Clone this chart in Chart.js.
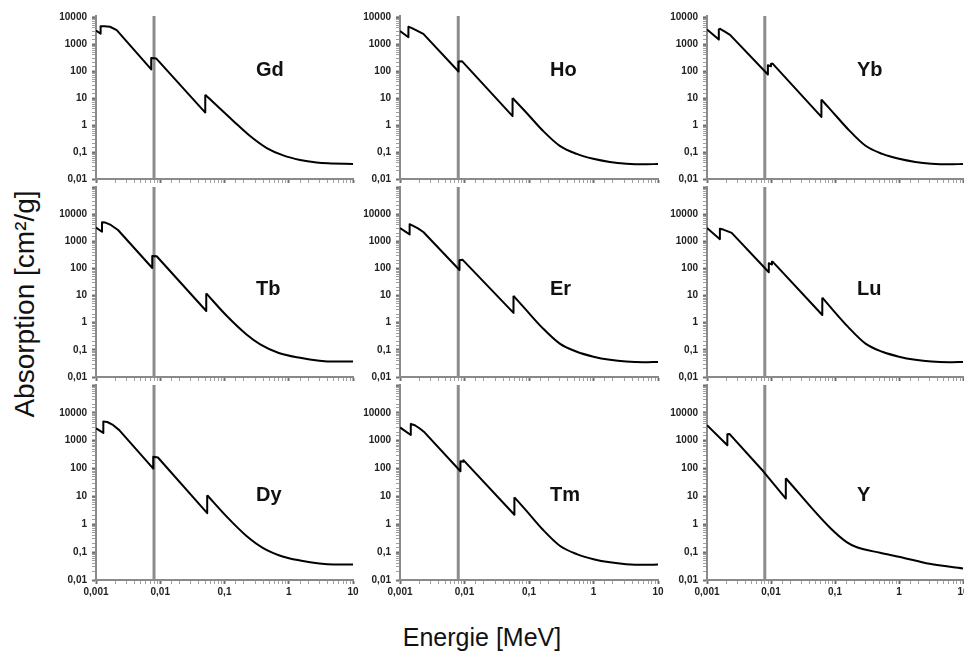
<!DOCTYPE html>
<html>
<head>
<meta charset="utf-8">
<script src="https://cdn.jsdelivr.net/npm/chart.js@4.4.1/dist/chart.umd.min.js"></script>
<style>
html,body{margin:0;padding:0;background:#fff;}
body{width:964px;height:662px;overflow:hidden;position:relative;font-family:"Liberation Sans",Arial,sans-serif;}
.panel{position:absolute;}
.panel canvas{display:block;}
.elem{position:absolute;font-weight:bold;font-size:20px;line-height:20px;color:#111;transform:translateY(-50%);white-space:nowrap;}
#ytitle{position:absolute;left:25px;top:304px;transform:translate(-50%,-50%) rotate(-90deg);font-size:28px;line-height:28px;white-space:nowrap;color:#111;}
#xtitle{position:absolute;left:482px;top:637px;transform:translate(-50%,-50%);font-size:25px;line-height:25px;white-space:nowrap;color:#111;}
</style>
</head>
<body>
<div id="ytitle">Absorption [cm²/g]</div>
<div id="xtitle">Energie [MeV]</div>
<script>
// ---------- data (energy in MeV, mass absorption in cm²/g) ----------
const gdEnergy = [0.001, 0.00118, 0.00118, 0.00135, 0.00165, 0.0021, 0.00724, 0.00724, 0.0087, 0.0502, 0.0502, 0.137, 0.25, 0.455, 0.82, 1.5, 2.7, 4.1, 10];
const gdMu     = [3200, 2450, 4600, 4600, 4400, 3300, 115, 305, 290, 2.9, 13.2, 1.42, 0.39, 0.14, 0.075, 0.051, 0.041, 0.038, 0.036];

const hoEnergy = [0.001, 0.00135, 0.00135, 0.0015, 0.0018, 0.0023, 0.00807, 0.00807, 0.0092, 0.0556, 0.0556, 0.092, 0.166, 0.30, 0.55, 0.99, 1.79, 3.25, 5.9, 10];
const hoMu     = [3060, 1800, 4400, 4000, 3200, 2400, 96, 225, 230, 2.15, 10, 2.8, 0.6, 0.17, 0.085, 0.056, 0.043, 0.037, 0.035, 0.036];

const ybEnergy = [0.001, 0.00153, 0.00153, 0.0016, 0.0019, 0.00229, 0.00894, 0.00894, 0.00998, 0.00998, 0.0106, 0.0613, 0.0613, 0.0836, 0.16, 0.30, 0.55, 1.0, 1.8, 3.2, 6, 10];
const ybMu     = [3480, 1470, 3500, 3700, 2900, 2200, 75, 165, 150, 185, 190, 2.0, 8.8, 3.9, 0.7, 0.17, 0.085, 0.056, 0.043, 0.037, 0.035, 0.036];

const tbEnergy = [0.001, 0.00124, 0.00124, 0.0014, 0.0017, 0.0022, 0.00751, 0.00751, 0.0088, 0.052, 0.052, 0.108, 0.22, 0.36, 0.7, 1.5, 3, 5, 10];
const tbMu     = [3200, 2250, 5000, 4900, 4000, 2600, 104, 285, 280, 2.7, 12, 1.8, 0.37, 0.16, 0.077, 0.051, 0.04, 0.037, 0.037];

const erEnergy = [0.001, 0.00141, 0.00141, 0.0016, 0.0019, 0.0023, 0.00836, 0.00836, 0.0093, 0.0575, 0.0575, 0.0866, 0.16, 0.30, 0.55, 1.0, 1.8, 3.2, 6, 10];
const erMu     = [3080, 1790, 4260, 3700, 3000, 2200, 88, 200, 210, 2.3, 9.8, 3.3, 0.66, 0.17, 0.085, 0.056, 0.043, 0.037, 0.035, 0.036];

const luEnergy = [0.001, 0.00159, 0.00159, 0.0018, 0.00243, 0.00924, 0.00924, 0.01035, 0.01035, 0.0106, 0.0633, 0.0633, 0.0836, 0.16, 0.30, 0.55, 1.0, 1.8, 3.2, 6, 10];
const luMu     = [3080, 1200, 2900, 2700, 2040, 72, 156, 140, 176, 178, 1.93, 8.4, 3.9, 0.7, 0.17, 0.085, 0.056, 0.043, 0.037, 0.035, 0.036];

const dyEnergy = [0.001, 0.0013, 0.0013, 0.0015, 0.0018, 0.0023, 0.00779, 0.00779, 0.0092, 0.0538, 0.0538, 0.11, 0.22, 0.4, 0.8, 1.5, 3, 5, 10];
const dyMu     = [2800, 1900, 4900, 4700, 3800, 2400, 100, 265, 250, 2.5, 11, 1.8, 0.38, 0.14, 0.07, 0.05, 0.039, 0.036, 0.036];

const tmEnergy = [0.001, 0.00147, 0.00147, 0.0017, 0.002, 0.0024, 0.00865, 0.00865, 0.00962, 0.00962, 0.0594, 0.0594, 0.09, 0.16, 0.30, 0.55, 1.0, 1.8, 3.2, 6, 10];
const tmMu     = [3000, 1600, 4000, 3600, 2800, 2000, 80, 185, 175, 200, 2.2, 9.3, 3.15, 0.68, 0.17, 0.085, 0.056, 0.043, 0.037, 0.035, 0.036];

const yEnergy  = [0.001, 0.00208, 0.00208, 0.00224, 0.00757, 0.01704, 0.01704, 0.0836, 0.152, 0.22, 0.505, 1.04, 3.0, 10];
const yMu      = [3600, 690, 1700, 1750, 80, 8.4, 45, 0.75, 0.23, 0.15, 0.095, 0.067, 0.038, 0.026];

const elementNames = ['Gd', 'Ho', 'Yb', 'Tb', 'Er', 'Lu', 'Dy', 'Tm', 'Y'];
const markerEnergy = 0.008;   // vertical reference line
const xTickValues = [0.001, 0.01, 0.1, 1, 10];
const xTickLabels = ['0,001', '0,01', '0,1', '1', '10'];
const yTickValues = [0.01, 0.1, 1, 10, 100, 1000, 10000];
const yTickLabels = ['0,01', '0,1', '1', '10', '100', '1000', '10000'];

const seriesByName = {
  Gd: [gdEnergy, gdMu], Ho: [hoEnergy, hoMu], Yb: [ybEnergy, ybMu],
  Tb: [tbEnergy, tbMu], Er: [erEnergy, erMu], Lu: [luEnergy, luMu],
  Dy: [dyEnergy, dyMu], Tm: [tmEnergy, tmMu], Y: [yEnergy, yMu]
};

// ---------- layout ----------
const colLeft = [96, 400, 707], colRight = [353, 658, 963];
const rowTop = [13, 184, 382], rowBottom = [184, 382, 580];
const labelX = [256, 550, 857], labelY = [69, 288, 494];
const YW = 44, PT = 8, PR = 14;
const FONT = '"Liberation Sans", Arial, sans-serif';

function lookup(v, vals, labels) {
  for (let i = 0; i < vals.length; i++) {
    if (Math.abs(Math.log10(v) - Math.log10(vals[i])) < 1e-6) return labels[i];
  }
  return '';
}
function isMajor(v) {
  const l = Math.log10(v);
  return Math.abs(l - Math.round(l)) < 1e-6;
}

Chart.defaults.font.family = FONT;

elementNames.forEach((name, idx) => {
  const r = Math.floor(idx / 3), c = idx % 3;
  const [energy, mu] = seriesByName[name];
  const pts = energy.map((e, i) => ({ x: e, y: mu[i] }));
  // last absorption edge (repeated energy) splits sharp part from smooth tail
  let split = 0;
  for (let i = 1; i < energy.length; i++) if (energy[i] === energy[i - 1]) split = i;
  const head = pts.slice(0, split + 1);
  const tail = pts.slice(split);

  const bottomPad = r === 2 ? 26 : 6;
  const w = YW + (colRight[c] - colLeft[c]) + PR;
  const h = PT + (rowBottom[r] - rowTop[r]) + bottomPad;
  const div = document.createElement('div');
  div.className = 'panel';
  div.style.left = (colLeft[c] - YW) + 'px';
  div.style.top = (rowTop[r] - PT) + 'px';
  div.style.width = w + 'px';
  div.style.height = h + 'px';
  const cv = document.createElement('canvas');
  cv.width = w; cv.height = h;
  div.appendChild(cv);
  document.body.appendChild(div);

  const lab = document.createElement('div');
  lab.className = 'elem';
  lab.textContent = name;
  lab.style.left = labelX[c] + 'px';
  lab.style.top = labelY[r] + 'px';
  document.body.appendChild(lab);

  const yMax = r === 0 ? 11000 : 100000;
  const axisGray = '#8a8a8a';
  const tickCol = ctx => (ctx.tick && isMajor(ctx.tick.value)) ? '#707070' : '#a0a0a0';
  const tickW = ctx => (ctx.tick && isMajor(ctx.tick.value)) ? 2 : 1;
  new Chart(cv, {
    type: 'line',
    data: {
      datasets: [
        { data: head, borderColor: '#000', borderWidth: 2, pointRadius: 0, tension: 0, fill: false, order: 1,
          borderJoinStyle: 'round' },
        { data: tail, borderColor: '#000', borderWidth: 2, pointRadius: 0, cubicInterpolationMode: 'monotone',
          fill: false, order: 1 },
        { data: [{ x: markerEnergy, y: 0.01 }, { x: markerEnergy, y: yMax }], borderColor: '#8c8c8c',
          borderWidth: 3, pointRadius: 0, fill: false, order: 2 }
      ]
    },
    options: {
      responsive: false, animation: false, devicePixelRatio: 1,
      layout: { padding: { left: 0, right: PR, top: PT, bottom: 0 } },
      plugins: { legend: { display: false }, tooltip: { enabled: false } },
      scales: {
        x: {
          type: 'logarithmic', min: 0.001, max: 10, position: 'bottom',
          border: { color: axisGray, width: 2 },
          grid: { drawOnChartArea: false, drawTicks: true, tickLength: 4, tickColor: tickCol, tickWidth: tickW },
          ticks: { display: r === 2, autoSkip: false, maxRotation: 0, minRotation: 0, padding: 2,
                   color: '#222', font: { family: FONT, size: 10, weight: 'bold' },
                   callback: v => lookup(v, xTickValues, xTickLabels) },
          afterFit: s => { s.height = bottomPad; }
        },
        y: {
          type: 'logarithmic', min: 0.01, max: yMax, position: 'left',
          border: { color: axisGray, width: 2 },
          grid: { drawOnChartArea: false, drawTicks: true, tickLength: 4, tickColor: tickCol, tickWidth: tickW },
          ticks: { autoSkip: false, padding: 5, color: '#222', font: { family: FONT, size: 10, weight: 'bold' },
                   callback: v => lookup(v, yTickValues, yTickLabels) },
          afterFit: s => { s.width = YW; }
        }
      }
    }
  });
});
</script>
</body>
</html>
